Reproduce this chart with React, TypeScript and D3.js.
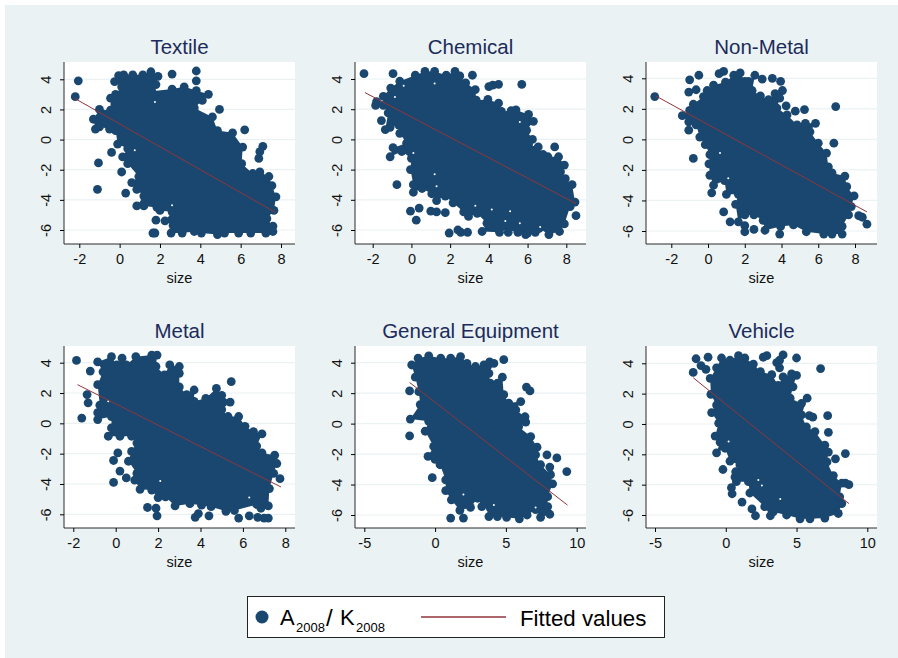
import React, { useEffect, useRef } from 'react';
import * as d3 from 'd3';

type Pt = [number, number];

// outline of the solid mass of overlapping points, read clockwise off the picture
const textileEdge: Pt[] = [[-0.25,3.85],[-0.05,4.25],[0.2,4.3],[0.65,4.3],[1.15,4.3],[1.55,4.5],[1.9,4.2],[1.8,3.65],[1.6,3.2],[2.6,3.35],[3.2,3.5],[3.8,3.25],[4.4,3],[4.1,2.6],[3.7,2.1],[4.6,1.5],[4.85,0.6],[5.6,0.45],[6.1,-0.5],[6.05,-1.6],[6.6,-2.25],[6.95,-2.15],[7.4,-2.45],[7.55,-3.05],[7.75,-3.8],[7.65,-4.7],[7.3,-5.25],[7.6,-5.75],[7.6,-6.1],[7.25,-6.2],[6.5,-6.2],[5.9,-6.2],[5.2,-6.2],[4.85,-6.3],[4.05,-6.2],[3.7,-6.1],[3.1,-6.2],[2.55,-6.2],[2.65,-5.7],[2.25,-5.4],[2.6,-4.8],[2,-4.7],[1.85,-4.5],[1.2,-4.4],[0.85,-4.4],[1.2,-3.75],[0.85,-3.3],[0.6,-2.85],[0.95,-2.45],[0.4,-1.6],[0.15,-1.15],[0.4,-0.6],[-0.1,-0.3],[-0.2,0.6],[-0.5,0.7],[-1,0.85],[-1.2,0.7],[-1.3,1.35],[-1,2],[-0.45,1.95],[-0.45,2.75],[-0.2,3],[0.1,3.5]];
const textileOut: Pt[] = [[-2.2,2.85],[-2.05,3.9],[-0.4,-0.85],[-1.05,-1.55],[-1.1,-3.3],[0.1,-2.15],[0.3,-3.55],[1.65,-6.2],[1.75,-6.2],[1.8,-5.35],[2.6,4.35],[3.8,4.55],[3.8,3.9],[4.95,2],[6.2,0.65],[7.1,-0.45],[6.95,-0.8],[6.9,-1.25]];
const textileFit: Pt[] = [[-2.25,2.75],[7.75,-4.85]];
// small white slivers left between overlapping points
const textileGaps: Pt[] = [[0.75,-0.7],[1.75,2.5],[2.6,-4.35]];

const chemicalEdge: Pt[] = [[-1.07,3.4],[-0.6,3.85],[0.2,4.25],[0.7,4.5],[1.2,4.5],[1.8,4.25],[2.25,4.5],[2.5,4.2],[2.8,3.75],[3.3,3.3],[3.35,2.6],[3.95,2.65],[4.5,2.4],[4.65,1.85],[5.15,1.9],[5.4,1.95],[6.05,1.65],[6.3,1.2],[5.95,0.6],[6.25,0],[6.05,-0.35],[6.55,-0.5],[6.8,-1],[7.05,-1.15],[7.6,-1.15],[7.9,-1.7],[7.7,-2.15],[7.95,-2.6],[8.3,-3],[8.45,-4.15],[8.2,-4.45],[7.9,-5.6],[7.65,-6.1],[7.1,-6.3],[6.6,-5.9],[5.9,-6.3],[5.3,-5.8],[4.55,-6.15],[3.65,-6.1],[3.9,-5.55],[3.4,-4.9],[2.95,-5.1],[2.7,-4.8],[2.15,-4.2],[1.75,-3.75],[1.3,-4.05],[1.05,-3.6],[0.55,-3.25],[0.1,-3.5],[0.1,-3],[-0.05,-2],[0,-1.25],[-0.5,-0.8],[-1.1,-1.15],[-0.95,-0.55],[-0.25,-0.25],[-0.6,0.4],[-0.65,0.95],[-1.1,0.8],[-1.35,0.65],[-1.2,1.75],[-1.45,2.25],[-1.45,2.85]];
const chemicalOut: Pt[] = [[-2.45,4.35],[-0.95,4.35],[3.15,4.25],[5.7,3.65],[4.5,3.65],[4.2,3.6],[4,3.5],[-1.55,1.25],[-1.85,2.25],[-1.8,2.5],[7.4,-0.5],[-0.75,-3],[-0.05,-4.75],[0.4,-4.55],[0.25,-5.35],[1,-4.75],[1.3,-4.8],[1.75,-4.85],[1.95,-6.2],[2.4,-6],[2.55,-6.15],[2.9,-6.15],[8.5,-5.05],[5.5,-6.15],[6,-6.2],[6.4,-6.15],[5,-6.15]];
const chemicalFit: Pt[] = [[-2.4,3.1],[8.5,-4.25]];
const chemicalGaps: Pt[] = [[-0.85,2.8],[-0.4,3.55],[1.2,3.7],[0.1,-0.9],[1.2,-2.3],[1.3,-3.1],[3.3,-4.4],[4.15,-4.65],[5.1,-4.75],[5.6,1.15],[5.6,-5.55],[6.65,-5.8],[4.85,-5.4]];

const nonMetalEdge: Pt[] = [[-0.25,2.8],[-0.05,3.2],[0.3,3.55],[0.95,3.75],[1.4,4.2],[1.75,4.35],[2,3.8],[2.2,3.8],[2.55,4.2],[2.4,3.2],[2.85,2.85],[3.3,2.6],[3.65,3],[4.05,3.2],[3.9,2.7],[3.75,2.05],[4.3,1.6],[4.85,0.95],[5.3,1.05],[5.85,1.05],[5.55,0.5],[6,-0.25],[6.45,-0.9],[6.55,-1.8],[6.75,-2.2],[7.45,-2.4],[7.55,-3.1],[7.95,-3.7],[7.8,-4.4],[7.65,-4.95],[7.3,-5.7],[7.3,-6.2],[6.75,-6.2],[6.3,-6.2],[5.35,-6.05],[4.65,-5.6],[3.95,-5.7],[3.1,-5.95],[3,-5.3],[2.5,-4.95],[2,-4.95],[1.65,-5.4],[1.5,-4.25],[1.65,-3.6],[1,-3.6],[0.9,-2.7],[0.3,-3],[0.1,-2.35],[0.05,-1.6],[0.1,-1],[-0.15,-0.35],[-0.45,0.15],[-0.65,0.95],[-1.05,1.15],[-1.4,1.55],[-1,1.9],[-0.8,2.3]];
const nonMetalOut: Pt[] = [[-2.9,2.8],[-1,3.9],[-0.5,4.2],[-1.05,3.1],[-0.65,3.25],[0.6,4.3],[0.85,4.45],[2.95,3.95],[3.5,4],[3.95,3.8],[4.25,2.2],[4.75,1.85],[5.25,1.95],[6.95,2.15],[6.85,-0.25],[-0.8,-1.25],[-1.05,0.6],[0.2,-3.5],[0.85,-4.75],[1.2,-5.4],[2,-5.65],[2,-6.05],[2.5,-5.9],[3.9,-6.2],[8.2,-5],[8.4,-5.1],[8.65,-5.55]];
const nonMetalFit: Pt[] = [[-2.85,2.85],[8.65,-4.75]];
const nonMetalGaps: Pt[] = [[0.65,-0.9],[1.1,-2.55]];

const metalEdge: Pt[] = [[-0.85,2.55],[-0.6,3.4],[-0.85,4.05],[-0.2,4.4],[0.05,3.85],[0.3,4.3],[0.5,3.85],[0.95,4.4],[1.7,4.5],[1.95,4.5],[1.9,3.75],[2.3,3.2],[2.55,3.85],[3,3.75],[3,3.3],[3,2.4],[3.35,1.9],[3.7,2.2],[3.7,1.45],[4.25,1.65],[4.75,2.3],[5,1.85],[5.4,1.4],[5,0.9],[5.3,0.45],[5.8,0.45],[6.1,-0.2],[6.5,-0.55],[6.9,-0.7],[6.65,-1.5],[6.9,-1.95],[7.5,-2.1],[7.6,-2.65],[7.45,-3.3],[7.25,-4.3],[7.2,-5.45],[6.85,-5.6],[6.65,-5.35],[5.6,-5.75],[5.2,-5.8],[4.5,-5.5],[4.05,-5.4],[3.5,-5.3],[2.8,-5.45],[2.35,-4.85],[2,-4.9],[1.7,-4.4],[1.15,-4.35],[0.9,-3.75],[1,-3.3],[0.6,-2.5],[0.75,-1.85],[1,-1.3],[0.75,-0.85],[0.2,-0.85],[-0.35,-0.85],[-0.2,-0.3],[-0.2,0.45],[-0.85,0.25],[-0.85,0.7],[-0.75,1.2]];
const metalOut: Pt[] = [[-1.85,4.15],[-1.2,3.45],[-1.3,1.35],[-1.35,1.9],[-1.6,0.35],[0.1,-1.95],[-0.1,-2.45],[0.2,-3.15],[-0.1,-3.9],[0.5,-3.6],[1.5,-5.55],[1.9,-5.6],[1.95,-6.1],[3.75,-6.2],[3.9,-5.95],[4.4,-6.1],[5.8,-6.25],[7,-6.25],[5.45,2.75],[7.75,-3.65],[6.3,-6.1],[6.7,-6.2],[7.2,-6.25]];
const metalFit: Pt[] = [[-1.8,2.55],[7.8,-4.2]];
const metalGaps: Pt[] = [[6.3,-4.9],[2.1,-3.8],[-0.35,1.45]];

const equipmentEdge: Pt[] = [[-1.65,3.85],[-1.2,4.3],[-0.45,4.45],[0.4,4.3],[1.1,4.3],[1.8,4.4],[2.25,3.95],[2.85,3.75],[3.45,3.85],[3.85,4.05],[4.15,3.95],[3.8,3.3],[3.9,2.65],[4.4,2.65],[4.75,3.05],[4.85,1.9],[5.2,1.35],[6.05,1.45],[5.7,0.9],[6.35,0.45],[6.4,0.1],[5.9,-0.2],[6.75,-0.85],[7.2,-1.55],[7.1,-2.05],[7.45,-2.7],[8.15,-3.35],[8.3,-3.95],[7.95,-4.8],[7.95,-5.45],[8.1,-5.95],[7.45,-6.15],[7.1,-5.65],[6.5,-6],[5.95,-6.25],[5.05,-6.15],[4.4,-6.1],[3.8,-6.1],[3.9,-5.55],[3.3,-5.45],[3,-4.9],[2.5,-5.5],[1.75,-5.7],[1.15,-5],[0.75,-4.4],[0.75,-3.7],[0.35,-2.7],[0,-2.35],[-0.5,-2.15],[-0.1,-1.5],[-0.7,-0.5],[-0.45,0.15],[-1.75,0.3],[-1.05,1.25],[-1.15,2.1],[-1.4,3.05]];
const equipmentOut: Pt[] = [[-1.8,2.15],[-1.8,-0.8],[-0.2,-3.55],[1.1,-6.2],[2,-6.2],[4.85,4.2],[6.45,2.4],[6.7,2.15],[7.9,-2.05],[8.6,-2.25],[8.1,-2.85],[9.3,-3.15]];
const equipmentFit: Pt[] = [[-1.8,2.7],[9.35,-5.35]];
const equipmentGaps: Pt[] = [[7.1,-5.5],[2,-4.65],[4.15,-5.35]];

const vehicleEdge: Pt[] = [[-1.1,3],[-0.65,3.7],[-0.3,4.35],[0.3,4.2],[0.9,4.5],[1.35,4.35],[1.95,3.95],[2.45,3.45],[3.25,3.25],[3.7,2.55],[4.05,3.1],[4.65,3.3],[5,3.2],[4.75,2.45],[4.55,1.7],[5.35,1.35],[5.75,1.7],[5.35,0.6],[5.7,-0.2],[6.3,-0.5],[7,-1.4],[7.25,-1.85],[7.15,-2.5],[7.6,-3.4],[8.2,-3.9],[8.05,-4.8],[8.2,-5.25],[7.95,-5.9],[7,-6.2],[5.95,-6.25],[5.25,-6.25],[4.3,-6],[3.35,-5.8],[3.15,-6.05],[2.75,-5.45],[1.7,-4.55],[1.6,-3.8],[0.75,-3.8],[0.7,-3.15],[1,-2.7],[0.3,-2.45],[-0.05,-1.6],[-0.65,-1.9],[-0.4,-1.2],[-0.75,-0.8],[-0.5,0.05],[-1,0.75],[-0.65,1.25],[-1.05,1.95]];
const vehicleOut: Pt[] = [[-2.1,4.3],[-1.25,4.4],[-2.3,3.4],[-1.75,3.85],[-1.4,3.6],[2.65,4.4],[2.9,4.5],[4.05,4.55],[5,4.35],[3.6,4.05],[3.8,3.7],[3.8,4.2],[6.7,3.65],[7.2,0.55],[7.25,-0.55],[7.75,-2.3],[8.45,-1.95],[8.45,-3.9],[8.7,-4],[5.9,0.55],[6.15,0.45],[-0.2,-3],[0.4,-4.2],[0.45,-4.6],[1.15,-5.15],[1.85,-5.6],[2.1,-6.05],[0.65,-3.5]];
const vehicleFit: Pt[] = [[-2.3,3.05],[8.7,-5.25]];
const vehicleGaps: Pt[] = [[0.2,-1.15],[2.3,-3.7],[2.55,-4.05],[3.85,-4.95]];

const yTicks = [-6, -4, -2, 0, 2, 4];
const xTicksNarrow = [-2, 0, 2, 4, 6, 8];
const xTicksWide = [-5, 0, 5, 10];

const NAVY = '#1a476f';
const RED = '#90353b';
const BG = '#eaf2f3';
const FONT = '"Liberation Sans", Arial, sans-serif';

// box = plot region in px, xr/yr = two tick values and their px positions
const panels = [
  { title: 'Textile', edge: textileEdge, out: textileOut, fit: textileFit, gaps: textileGaps, ticks: xTicksNarrow, box: [64, 62, 295, 244], xr: [-2, 79.3, 8, 281], yr: [-6, 230, 4, 79.3] },
  { title: 'Chemical', edge: chemicalEdge, out: chemicalOut, fit: chemicalFit, gaps: chemicalGaps, ticks: xTicksNarrow, box: [355, 62, 586, 244], xr: [-2, 372.7, 8, 566.3], yr: [-6, 230, 4, 79] },
  { title: 'Non-Metal', edge: nonMetalEdge, out: nonMetalOut, fit: nonMetalFit, gaps: nonMetalGaps, ticks: xTicksNarrow, box: [646, 62, 877, 244], xr: [-2, 671.3, 8, 855], yr: [-6, 231, 4, 78.3] },
  { title: 'Metal', edge: metalEdge, out: metalOut, fit: metalFit, gaps: metalGaps, ticks: xTicksNarrow, box: [64, 346, 295, 528], xr: [-2, 73.3, 8, 285.3], yr: [-6, 514.3, 4, 362.7] },
  { title: 'General Equipment', edge: equipmentEdge, out: equipmentOut, fit: equipmentFit, gaps: equipmentGaps, ticks: xTicksWide, box: [355, 346, 586, 528], xr: [-5, 364.3, 10, 576.7], yr: [-6, 515, 4, 362.7] },
  { title: 'Vehicle', edge: vehicleEdge, out: vehicleOut, fit: vehicleFit, gaps: vehicleGaps, ticks: xTicksWide, box: [646, 346, 877, 528], xr: [-5, 655, 10, 867.3], yr: [-6, 515, 4, 363.3] },
];

export default function App() {
  const svgRef = useRef<SVGSVGElement>(null);

  useEffect(() => {
    const svg = d3.select(svgRef.current);
    svg.selectAll('*').remove();
    svg.style('font-family', FONT);

    svg.append('rect').attr('x', 5).attr('y', 5).attr('width', 893).attr('height', 653).attr('fill', BG);

    panels.forEach(p => {
      const [left, top, right, bottom] = p.box;
      const x = d3.scaleLinear().domain([p.xr[0], p.xr[2]]).range([p.xr[1], p.xr[3]]);
      const y = d3.scaleLinear().domain([p.yr[0], p.yr[2]]).range([p.yr[1], p.yr[3]]);
      const g = svg.append('g');

      g.append('rect').attr('x', left).attr('y', top).attr('width', right - left).attr('height', bottom - top).attr('fill', '#fff');

      g.selectAll('.grid').data(yTicks).enter().append('line')
        .attr('x1', left).attr('x2', right)
        .attr('y1', d => y(d)).attr('y2', d => y(d))
        .attr('stroke', BG).attr('stroke-width', 1.2);

      const line = d3.line<Pt>().x(d => x(d[0])).y(d => y(d[1]));

      g.append('path').attr('d', line(p.edge) + 'Z').attr('fill', NAVY);
      g.selectAll('.pt').data([...p.edge, ...p.out]).enter().append('circle')
        .attr('cx', d => x(d[0])).attr('cy', d => y(d[1])).attr('r', 4.4).attr('fill', NAVY);
      g.selectAll('.gap').data(p.gaps).enter().append('circle')
        .attr('cx', d => x(d[0])).attr('cy', d => y(d[1])).attr('r', 1).attr('fill', '#fff');

      g.append('path').attr('d', line(p.fit)).attr('fill', 'none').attr('stroke', RED).attr('stroke-width', 1);

      // plain String keeps the hyphen minus, d3.format would give a long minus sign
      const axisB = d3.axisBottom(x).tickValues(p.ticks).tickSize(4).tickPadding(6).tickFormat(d => String(d));
      const ax = g.append('g').attr('transform', `translate(0,${bottom})`).call(axisB);
      ax.select('.domain').attr('d', `M${left},0H${right}`).attr('stroke', '#2b2b2b');
      ax.selectAll('text').attr('font-size', 14.5).attr('font-family', FONT).attr('fill', '#111');

      const axisL = d3.axisLeft(y).tickValues(yTicks).tickSize(4).tickFormat(d => String(d));
      const ay = g.append('g').attr('transform', `translate(${left},0)`).call(axisL);
      ay.select('.domain').attr('d', `M0,${top}V${bottom}`).attr('stroke', '#2b2b2b');
      // d3 already puts each tick group at its y, the label only needs turning
      ay.selectAll('text')
        .attr('font-size', 14.5).attr('font-family', FONT).attr('fill', '#111')
        .attr('text-anchor', 'middle').attr('dy', 0).attr('x', 0).attr('y', 0)
        .attr('transform', 'translate(-13,0) rotate(-90)');

      g.append('text').attr('x', (left + right) / 2).attr('y', bottom + 39)
        .attr('text-anchor', 'middle').attr('font-size', 14.5).attr('fill', '#111').text('size');
      g.append('text').attr('x', (left + right) / 2).attr('y', top - 8)
        .attr('text-anchor', 'middle').attr('font-size', 20.5).attr('fill', '#1c2b5a').text(p.title);
    });

    // legend
    const lg = svg.append('g');
    lg.append('rect').attr('x', 247.5).attr('y', 596.5).attr('width', 417).attr('height', 41)
      .attr('fill', '#fff').attr('stroke', '#222').attr('stroke-width', 1);
    lg.append('circle').attr('cx', 262).attr('cy', 617).attr('r', 6.5).attr('fill', NAVY);
    const legendText = (xPos: number, yPos: number, size: number, s: string) =>
      lg.append('text').attr('x', xPos).attr('y', yPos).attr('font-size', size).attr('fill', '#000').text(s);
    legendText(280, 625, 22, 'A');
    legendText(296, 632, 13, '2008');
    legendText(326, 626, 24, '/');
    legendText(340, 625, 22, 'K');
    legendText(356, 632, 13, '2008');
    lg.append('line').attr('x1', 421).attr('x2', 506).attr('y1', 617).attr('y2', 617).attr('stroke', RED).attr('stroke-width', 1.6);
    legendText(520, 626, 22.3, 'Fitted values');
  }, []);

  return <svg ref={svgRef} width={898} height={658} style={{ position: 'absolute', left: 0, top: 0 }} />;
}
